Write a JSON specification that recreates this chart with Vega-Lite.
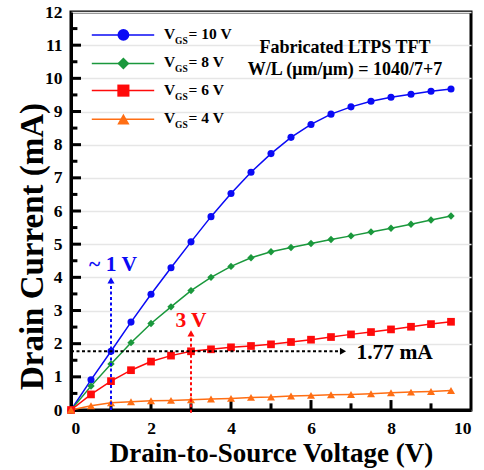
{
  "$schema": "https://vega.github.io/schema/vega-lite/v6.json",
  "width": 400,
  "height": 398,
  "autosize": {"type": "none"},
  "padding": {"left": 71, "top": 12, "right": 13, "bottom": 60},
  "background": "white",
  "config": {
    "font": "Liberation Serif",
    "view": {"stroke": "black", "strokeWidth": 3},
    "axis": {
      "labelFont": "Liberation Serif",
      "labelFontSize": 17.5,
      "labelFontWeight": "bold",
      "labelColor": "black",
      "labelOverlap": false,
      "titleFont": "Liberation Serif",
      "titleFontWeight": "bold",
      "titleColor": "black",
      "domainColor": "black",
      "domainWidth": 3,
      "gridColor": "#e6e6e6",
      "gridWidth": 1.5
    }
  },
  "datasets": {
    "curves": [
      {"vgs": "10 V", "vds": 0, "id": 0}, {"vgs": "10 V", "vds": 0.5, "id": 0.91}, {"vgs": "10 V", "vds": 1, "id": 1.77}, {"vgs": "10 V", "vds": 1.5, "id": 2.65},
      {"vgs": "10 V", "vds": 2, "id": 3.49}, {"vgs": "10 V", "vds": 2.5, "id": 4.29}, {"vgs": "10 V", "vds": 3, "id": 5.07}, {"vgs": "10 V", "vds": 3.5, "id": 5.83},
      {"vgs": "10 V", "vds": 4, "id": 6.53}, {"vgs": "10 V", "vds": 4.5, "id": 7.17}, {"vgs": "10 V", "vds": 5, "id": 7.73}, {"vgs": "10 V", "vds": 5.5, "id": 8.22},
      {"vgs": "10 V", "vds": 6, "id": 8.61}, {"vgs": "10 V", "vds": 6.5, "id": 8.92}, {"vgs": "10 V", "vds": 7, "id": 9.14}, {"vgs": "10 V", "vds": 7.5, "id": 9.31},
      {"vgs": "10 V", "vds": 8, "id": 9.43}, {"vgs": "10 V", "vds": 8.5, "id": 9.52}, {"vgs": "10 V", "vds": 9, "id": 9.61}, {"vgs": "10 V", "vds": 9.5, "id": 9.68},
      {"vgs": "8 V", "vds": 0, "id": 0}, {"vgs": "8 V", "vds": 0.5, "id": 0.72}, {"vgs": "8 V", "vds": 1, "id": 1.39}, {"vgs": "8 V", "vds": 1.5, "id": 2.03},
      {"vgs": "8 V", "vds": 2, "id": 2.61}, {"vgs": "8 V", "vds": 2.5, "id": 3.11}, {"vgs": "8 V", "vds": 3, "id": 3.6}, {"vgs": "8 V", "vds": 3.5, "id": 4.0},
      {"vgs": "8 V", "vds": 4, "id": 4.33}, {"vgs": "8 V", "vds": 4.5, "id": 4.59}, {"vgs": "8 V", "vds": 5, "id": 4.77}, {"vgs": "8 V", "vds": 5.5, "id": 4.9},
      {"vgs": "8 V", "vds": 6, "id": 5.02}, {"vgs": "8 V", "vds": 6.5, "id": 5.14}, {"vgs": "8 V", "vds": 7, "id": 5.25}, {"vgs": "8 V", "vds": 7.5, "id": 5.37},
      {"vgs": "8 V", "vds": 8, "id": 5.48}, {"vgs": "8 V", "vds": 8.5, "id": 5.6}, {"vgs": "8 V", "vds": 9, "id": 5.73}, {"vgs": "8 V", "vds": 9.5, "id": 5.85},
      {"vgs": "6 V", "vds": 0, "id": 0}, {"vgs": "6 V", "vds": 0.5, "id": 0.47}, {"vgs": "6 V", "vds": 1, "id": 0.87}, {"vgs": "6 V", "vds": 1.5, "id": 1.2},
      {"vgs": "6 V", "vds": 2, "id": 1.46}, {"vgs": "6 V", "vds": 2.5, "id": 1.64}, {"vgs": "6 V", "vds": 3, "id": 1.77}, {"vgs": "6 V", "vds": 3.5, "id": 1.83},
      {"vgs": "6 V", "vds": 4, "id": 1.89}, {"vgs": "6 V", "vds": 4.5, "id": 1.93}, {"vgs": "6 V", "vds": 5, "id": 1.98}, {"vgs": "6 V", "vds": 5.5, "id": 2.05},
      {"vgs": "6 V", "vds": 6, "id": 2.12}, {"vgs": "6 V", "vds": 6.5, "id": 2.2}, {"vgs": "6 V", "vds": 7, "id": 2.28}, {"vgs": "6 V", "vds": 7.5, "id": 2.35},
      {"vgs": "6 V", "vds": 8, "id": 2.43}, {"vgs": "6 V", "vds": 8.5, "id": 2.51}, {"vgs": "6 V", "vds": 9, "id": 2.59}, {"vgs": "6 V", "vds": 9.5, "id": 2.66},
      {"vgs": "4 V", "vds": 0, "id": 0}, {"vgs": "4 V", "vds": 0.5, "id": 0.13}, {"vgs": "4 V", "vds": 1, "id": 0.22}, {"vgs": "4 V", "vds": 1.5, "id": 0.25},
      {"vgs": "4 V", "vds": 2, "id": 0.28}, {"vgs": "4 V", "vds": 2.5, "id": 0.29}, {"vgs": "4 V", "vds": 3, "id": 0.31}, {"vgs": "4 V", "vds": 3.5, "id": 0.33},
      {"vgs": "4 V", "vds": 4, "id": 0.35}, {"vgs": "4 V", "vds": 4.5, "id": 0.38}, {"vgs": "4 V", "vds": 5, "id": 0.39}, {"vgs": "4 V", "vds": 5.5, "id": 0.42},
      {"vgs": "4 V", "vds": 6, "id": 0.44}, {"vgs": "4 V", "vds": 6.5, "id": 0.46}, {"vgs": "4 V", "vds": 7, "id": 0.47}, {"vgs": "4 V", "vds": 7.5, "id": 0.49},
      {"vgs": "4 V", "vds": 8, "id": 0.52}, {"vgs": "4 V", "vds": 8.5, "id": 0.54}, {"vgs": "4 V", "vds": 9, "id": 0.56}, {"vgs": "4 V", "vds": 9.5, "id": 0.59}
    ],
    "xticks": [
      {"at": 1, "kind": "minor"}, {"at": 2, "kind": "major"}, {"at": 3, "kind": "minor"}, {"at": 4, "kind": "major"},
      {"at": 5, "kind": "minor"}, {"at": 6, "kind": "major"}, {"at": 7, "kind": "minor"}, {"at": 8, "kind": "major"},
      {"at": 9, "kind": "minor"}
    ],
    "yticks": [
      {"at": 0.5, "kind": "minor"}, {"at": 1, "kind": "major"}, {"at": 1.5, "kind": "minor"}, {"at": 2, "kind": "major"},
      {"at": 2.5, "kind": "minor"}, {"at": 3, "kind": "major"}, {"at": 3.5, "kind": "minor"}, {"at": 4, "kind": "major"},
      {"at": 4.5, "kind": "minor"}, {"at": 5, "kind": "major"}, {"at": 5.5, "kind": "minor"}, {"at": 6, "kind": "major"},
      {"at": 6.5, "kind": "minor"}, {"at": 7, "kind": "major"}, {"at": 7.5, "kind": "minor"}, {"at": 8, "kind": "major"},
      {"at": 8.5, "kind": "minor"}, {"at": 9, "kind": "major"}, {"at": 9.5, "kind": "minor"}, {"at": 10, "kind": "major"},
      {"at": 10.5, "kind": "minor"}, {"at": 11, "kind": "major"}, {"at": 11.5, "kind": "minor"}
    ],
    "legend": [
      {"vgs": "10 V", "ly": 11.31, "rest": "= 10 V"},
      {"vgs": "8 V", "ly": 10.45, "rest": "= 8 V"},
      {"vgs": "6 V", "ly": 9.63, "rest": "= 6 V"},
      {"vgs": "4 V", "ly": 8.77, "rest": "= 4 V"}
    ],
    "arrows": [
      {"tone": "10 V", "x": 1, "y": 0, "x2": 1, "y2": 3.91},
      {"tone": "6 V", "x": 3, "y": -0.08, "x2": 3, "y2": 2.31},
      {"tone": "1.77 mA", "x": 0, "y": 1.77, "x2": 6.8, "y2": 1.77}
    ],
    "notes": [
      {"tone": "10 V", "label": "~ 1 V", "x": 1.05, "y": 4.2},
      {"tone": "6 V", "label": "3 V", "x": 3.0, "y": 2.51},
      {"tone": "1.77 mA", "label": "1.77 mA", "x": 8.09, "y": 1.53}
    ],
    "header": [
      {"line": "Fabricated LTPS TFT", "x": 6.85, "y": 10.76},
      {"line": "W/L (μm/μm) = 1040/7+7", "x": 6.85, "y": 10.1}
    ]
  },
  "resolve": {
    "scale": {"size": "independent"},
    "axis": {"x": "independent", "y": "independent"}
  },
  "layer": [
    {
      "data": {"name": "curves"},
      "mark": {"type": "line", "strokeWidth": 1.5},
      "encoding": {
        "x": {
          "field": "vds", "type": "quantitative",
          "scale": {"domain": [0, 10], "nice": false, "zero": false},
          "axis": {
            "orient": "bottom",
            "title": "Drain-to-Source Voltage (V)",
            "titleFontSize": 27,
            "values": [0, 2, 4, 6, 8, 10],
            "ticks": false,
            "labelPadding": 9,
            "grid": false,
            "titleY": 51.7,
            "titleBaseline": "alphabetic"
          }
        },
        "y": {
          "field": "id", "type": "quantitative",
          "scale": {"domain": [0, 12], "nice": false, "zero": false},
          "axis": {
            "orient": "left",
            "title": "Drain Current (mA)",
            "titleFontSize": 33,
            "values": [0, 1, 2, 3, 4, 5, 6, 7, 8, 9, 10, 11, 12],
            "ticks": false,
            "labelPadding": 9,
            "grid": true,
            "titleX": -29,
            "titleY": 234,
            "titleBaseline": "alphabetic"
          }
        },
        "color": {
          "field": "vgs", "type": "nominal",
          "scale": {"domain": ["10 V", "8 V", "6 V", "4 V", "1.77 mA"], "range": ["#0A0AF5", "#1A983C", "#FF0A0A", "#FF6E14", "#000000"]},
          "legend": null
        }
      }
    },
    {
      "data": {"name": "xticks"},
      "transform": [{"filter": "datum.kind === 'major'"}],
      "mark": {"type": "rule", "strokeWidth": 3, "color": "black"},
      "encoding": {
        "x": {"field": "at", "type": "quantitative", "axis": null},
        "y": {"datum": 0, "type": "quantitative", "axis": null},
        "y2": {"datum": 0.3}
      }
    },
    {
      "data": {"name": "xticks"},
      "transform": [{"filter": "datum.kind === 'minor'"}],
      "mark": {"type": "rule", "strokeWidth": 3, "color": "black"},
      "encoding": {
        "x": {"field": "at", "type": "quantitative", "axis": null},
        "y": {"datum": 0, "type": "quantitative", "axis": null},
        "y2": {"datum": 0.2}
      }
    },
    {
      "data": {"name": "yticks"},
      "transform": [{"filter": "datum.kind === 'major'"}],
      "mark": {"type": "rule", "strokeWidth": 3, "color": "black"},
      "encoding": {
        "y": {"field": "at", "type": "quantitative", "axis": null},
        "x": {"datum": 0, "type": "quantitative", "axis": null},
        "x2": {"datum": 0.25}
      }
    },
    {
      "data": {"name": "yticks"},
      "transform": [{"filter": "datum.kind === 'minor'"}],
      "mark": {"type": "rule", "strokeWidth": 3, "color": "black"},
      "encoding": {
        "y": {"field": "at", "type": "quantitative", "axis": null},
        "x": {"datum": 0, "type": "quantitative", "axis": null},
        "x2": {"datum": 0.16}
      }
    },
    {
      "data": {"name": "curves"},
      "mark": {"type": "point", "filled": true, "opacity": 1},
      "encoding": {
        "x": {"field": "vds", "type": "quantitative", "axis": null},
        "y": {"field": "id", "type": "quantitative", "axis": null},
        "color": {"field": "vgs", "type": "nominal", "legend": null},
        "shape": {
          "field": "vgs", "type": "nominal",
          "scale": {"domain": ["10 V", "8 V", "6 V", "4 V"], "range": ["circle", "diamond", "square", "triangle-up"]},
          "legend": null
        },
        "size": {
          "field": "vgs", "type": "nominal",
          "scale": {"domain": ["10 V", "8 V", "6 V", "4 V"], "range": [50, 64, 44, 95]},
          "legend": null
        }
      }
    },
    {
      "data": {"name": "arrows"},
      "mark": {"type": "rule", "strokeWidth": 2, "strokeDash": [3, 2.5]},
      "encoding": {
        "x": {"field": "x", "type": "quantitative", "axis": null},
        "x2": {"field": "x2"},
        "y": {"field": "y", "type": "quantitative", "axis": null},
        "y2": {"field": "y2"},
        "color": {"field": "tone", "type": "nominal", "legend": null}
      }
    },
    {
      "data": {"name": "arrows"},
      "transform": [{"filter": "datum.x === datum.x2"}],
      "mark": {"type": "point", "filled": true, "opacity": 1, "shape": "triangle-up", "size": 50},
      "encoding": {
        "x": {"field": "x2", "type": "quantitative", "axis": null},
        "y": {"field": "y2", "type": "quantitative", "axis": null},
        "color": {"field": "tone", "type": "nominal", "legend": null}
      }
    },
    {
      "data": {"name": "arrows"},
      "transform": [{"filter": "datum.y === datum.y2"}],
      "mark": {"type": "point", "filled": true, "opacity": 1, "shape": "triangle-right", "size": 50},
      "encoding": {
        "x": {"field": "x2", "type": "quantitative", "axis": null},
        "y": {"field": "y2", "type": "quantitative", "axis": null},
        "color": {"field": "tone", "type": "nominal", "legend": null}
      }
    },
    {
      "data": {"name": "notes"},
      "mark": {"type": "text", "fontSize": 21.5, "fontWeight": "bold", "align": "center", "baseline": "alphabetic"},
      "encoding": {
        "x": {"field": "x", "type": "quantitative", "axis": null},
        "y": {"field": "y", "type": "quantitative", "axis": null},
        "text": {"field": "label"},
        "color": {"field": "tone", "type": "nominal", "legend": null}
      }
    },
    {
      "data": {"name": "header"},
      "mark": {"type": "text", "fontSize": 18, "fontWeight": "bold", "align": "center", "baseline": "alphabetic", "color": "black"},
      "encoding": {
        "x": {"field": "x", "type": "quantitative", "axis": null},
        "y": {"field": "y", "type": "quantitative", "axis": null},
        "text": {"field": "line"}
      }
    },
    {
      "data": {"name": "legend"},
      "mark": {"type": "rule", "strokeWidth": 1.5},
      "encoding": {
        "x": {"datum": 0.52, "type": "quantitative", "axis": null},
        "x2": {"datum": 2.08},
        "y": {"field": "ly", "type": "quantitative", "axis": null},
        "color": {"field": "vgs", "type": "nominal", "legend": null}
      }
    },
    {
      "data": {"name": "legend"},
      "mark": {"type": "point", "filled": true, "opacity": 1},
      "encoding": {
        "x": {"datum": 1.31, "type": "quantitative", "axis": null},
        "y": {"field": "ly", "type": "quantitative", "axis": null},
        "color": {"field": "vgs", "type": "nominal", "legend": null},
        "shape": {"field": "vgs", "type": "nominal", "legend": null},
        "size": {
          "field": "vgs", "type": "nominal",
          "scale": {"domain": ["10 V", "8 V", "6 V", "4 V"], "range": [140, 150, 160, 177]},
          "legend": null
        }
      }
    },
    {
      "data": {"name": "legend"},
      "mark": {"type": "text", "fontSize": 15.5, "fontWeight": "bold", "align": "left", "baseline": "alphabetic", "dy": 4, "color": "black"},
      "encoding": {
        "x": {"datum": 2.325, "type": "quantitative", "axis": null},
        "y": {"field": "ly", "type": "quantitative", "axis": null},
        "text": {"value": "V"}
      }
    },
    {
      "data": {"name": "legend"},
      "mark": {"type": "text", "fontSize": 9.5, "fontWeight": "bold", "align": "left", "baseline": "alphabetic", "dy": 9, "color": "black"},
      "encoding": {
        "x": {"datum": 2.6, "type": "quantitative", "axis": null},
        "y": {"field": "ly", "type": "quantitative", "axis": null},
        "text": {"value": "GS"}
      }
    },
    {
      "data": {"name": "legend"},
      "mark": {"type": "text", "fontSize": 15.5, "fontWeight": "bold", "align": "left", "baseline": "alphabetic", "dy": 4, "color": "black"},
      "encoding": {
        "x": {"datum": 2.94, "type": "quantitative", "axis": null},
        "y": {"field": "ly", "type": "quantitative", "axis": null},
        "text": {"field": "rest"}
      }
    }
  ]
}
